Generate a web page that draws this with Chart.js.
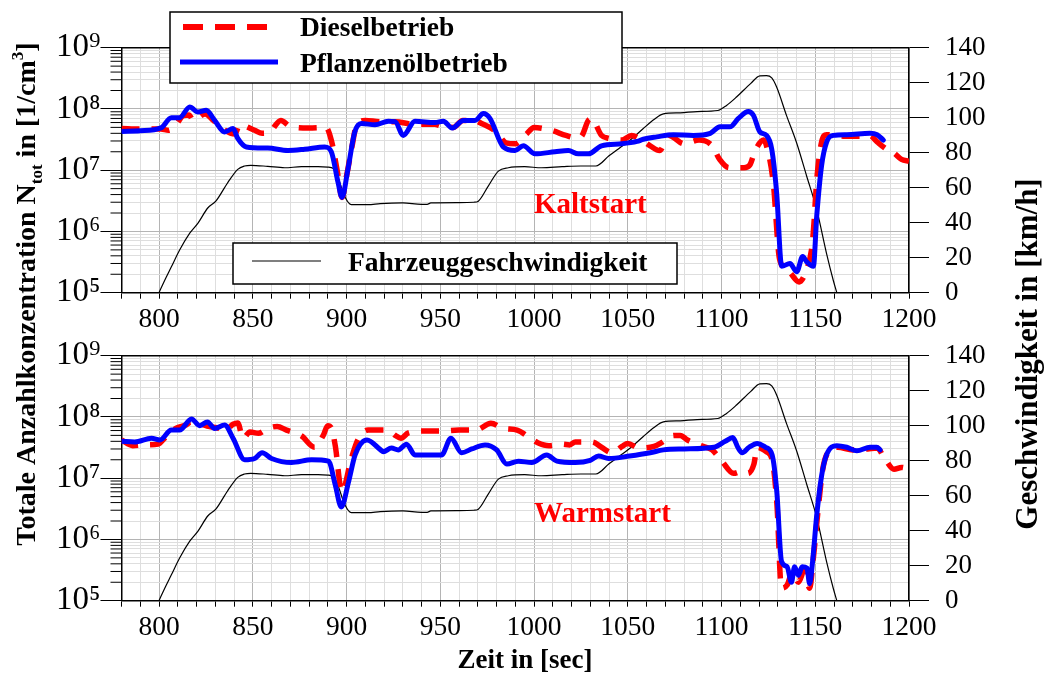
<!DOCTYPE html>
<html>
<head>
<meta charset="utf-8">
<script src="https://cdn.jsdelivr.net/npm/chart.js@4.4.1/dist/chart.umd.min.js"></script>
<style>
  html, body { margin: 0; padding: 0; background: #fff; }
  #wrap { position: relative; width: 1047px; height: 674px; }
  #wrap canvas { position: absolute; left: 0; top: 0; }
</style>
</head>
<body>
<div id="wrap">
  <canvas id="kalt" width="1047" height="674"></canvas>
  <canvas id="warm" width="1047" height="674"></canvas>
</div>
<script>
// Fahrzeuggeschwindigkeit (gleich fuer beide Starts)
const speedTime = [800, 803, 806.6, 811, 816.4, 820.8, 826, 830.3, 836.6, 842, 845.6, 849, 858, 867, 876, 884.8, 890, 893,
  895.5, 899, 902.6, 911.5, 918, 930, 940, 943, 945, 960, 968, 970.3, 975.6, 981, 986.3, 995, 1004, 1015, 1025, 1033,
  1040, 1046, 1051, 1058, 1064, 1069, 1078, 1087, 1098, 1102.7, 1108, 1115.5, 1120.5, 1124, 1126.8, 1129.4, 1134.7,
  1140, 1145.4, 1150.8, 1156, 1159.6, 1161.5];
const speedKmh = [0, 7, 14.8, 24.4, 34, 39.8, 48.4, 52.3, 62.8, 70.5, 72.4, 72.8, 72.2, 71.4, 72, 72, 71.8, 71,
  65.7, 55.1, 50.3, 50.3, 50.9, 51.3, 50.5, 50.5, 51.3, 51.5, 51.7, 52.3, 60.9, 69.5, 71.4, 72, 71.4, 72, 72.4, 72.4,
  78.2, 83, 87, 93.5, 99, 102.2, 102.8, 103.5, 104.1, 107, 111.8, 119.5, 123.9, 124, 122.7, 117.5, 101.2,
  85.8, 66.7, 47.5, 22.5, 7.1, 0];

// Kaltstart
const kaltDieselTime = [780, 790, 801, 805, 809, 813, 816, 818.3, 824.6, 829, 835, 840.5, 843, 851, 855, 859, 865, 870,
  880, 889, 892, 895, 897.6, 900, 903, 905, 910, 918, 926, 936, 947, 951, 957, 962, 968, 972, 980, 985, 990, 996,
  1000, 1005, 1010, 1017, 1022, 1025, 1029, 1030.7, 1036, 1040, 1047, 1052, 1056, 1062, 1067, 1072, 1080, 1088,
  1095, 1099, 1104, 1112, 1115, 1118, 1122.5, 1124, 1127.6, 1131, 1136, 1141.4, 1146, 1148, 1149, 1150.8, 1153.4,
  1156, 1165, 1176, 1179, 1183, 1188, 1192, 1196, 1200];
const kaltDieselN = [4.8e7, 4.7e7, 4.7e7, 4.5e7, 5.5e7, 7.8e7, 8.0e7, 6.5e7, 8.3e7, 6.5e7, 4.5e7, 3.9e7, 5.5e7, 4.5e7,
  4.0e7, 4.2e7, 6.5e7, 5.2e7, 4.9e7, 5.0e7, 3.0e7, 1.0e7, 3.6e6, 8e6, 2.5e7, 5.0e7, 6.5e7, 6.2e7, 6.2e7, 5.6e7,
  5.6e7, 5.2e7, 5.0e7, 6.5e7, 6.5e7, 5.8e7, 4.2e7, 2.8e7, 2.7e7, 3.9e7, 5.0e7, 4.8e7, 4.4e7, 3.7e7, 3.4e7, 3.5e7,
  6.5e7, 6.9e7, 3.7e7, 3.3e7, 3.1e7, 3.7e7, 3.3e7, 2.5e7, 2.1e7, 3.7e7, 2.7e7, 3.1e7, 2.5e7, 1.5e7, 1.1e7, 1.1e7,
  1.2e7, 2.1e7, 3.1e7, 2.5e7, 6.3e6, 3.5e5, 2.2e5, 1.5e5, 2.7e5, 5e5, 1.0e6, 6.9e6, 2.9e7, 3.8e7, 3.6e7, 3.6e7,
  3.7e7, 2.9e7, 2.2e7, 1.9e7, 1.5e7, 1.4e7];
const kaltOelTime = [780, 790, 801, 806.6, 811, 816.4, 820.8, 825.2, 829.7, 835, 839.5, 842, 846.6, 858, 868.8, 877.7,
  888.4, 891.9, 895.5, 897.6, 900.8, 904.4, 907.9, 915.2, 922.3, 925.9, 930.3, 936.5, 947.2, 951.6, 956.4, 962.3,
  968.5, 973, 976.5, 983.6, 989.9, 994.3, 1000.5, 1011.2, 1018.3, 1023.6, 1029, 1036, 1046.8, 1055, 1058.3, 1065.4,
  1074.3, 1085, 1094, 1099.2, 1104.5, 1109, 1114.3, 1117, 1120.5, 1124, 1126.8, 1129.4, 1132.1, 1136.5, 1140.1,
  1143.3, 1145.4, 1149, 1150.8, 1153.4, 1156.1, 1159.6, 1166.8, 1179.2, 1183, 1186.3];
const kaltOelN = [4.3e7, 4.4e7, 4.9e7, 7.2e7, 7.2e7, 1.08e8, 8.9e7, 9.5e7, 6.5e7, 4.2e7, 4.8e7, 3.3e7, 2.4e7, 2.3e7,
  2.1e7, 2.2e7, 2.4e7, 2.0e7, 6.3e6, 3.6e6, 1.06e7, 4.2e7, 5.8e7, 5.5e7, 6.3e7, 6.2e7, 3.7e7, 6.3e7, 6.0e7, 6.3e7,
  4.9e7, 6.5e7, 6.5e7, 8.4e7, 7.0e7, 2.4e7, 2.1e7, 2.5e7, 1.85e7, 2.0e7, 2.1e7, 1.85e7, 1.85e7, 2.5e7, 2.7e7,
  2.95e7, 3.2e7, 3.5e7, 3.8e7, 3.7e7, 4.0e7, 5.1e7, 5.1e7, 7.0e7, 9.1e7, 7.9e7, 4.2e7, 3.7e7, 2.2e7, 4.3e6, 2.7e5,
  3.0e5, 2.2e5, 3.9e5, 3.2e5, 2.7e5, 1.8e6, 1.2e7, 2.9e7, 3.7e7, 3.8e7, 4.0e7, 3.8e7, 3.1e7];

// Warmstart
const warmDieselTime = [780, 786, 792, 799.6, 803, 809, 814.4, 817, 823, 826.5, 832, 835, 839.5, 842, 844.8, 848.5,
  853, 858, 863, 868, 876, 883, 887.6, 890, 892, 894, 897.5, 902.6, 906, 911.5, 922, 926, 929, 933, 942, 951, 960,
  969, 977, 983.7, 991, 998, 1002, 1008, 1015, 1019, 1022, 1031, 1036, 1041.6, 1047, 1050, 1056, 1064, 1068,
  1074.6, 1078, 1081.8, 1089, 1095, 1100.2, 1106.4, 1111, 1114, 1117.3, 1119, 1124, 1127, 1129.5, 1132, 1135,
  1138, 1141, 1144, 1147, 1149, 1151.5, 1154, 1157, 1162, 1170, 1178, 1183, 1187, 1192, 1196, 1200];
const warmDieselN = [4.2e7, 3.4e7, 3.5e7, 3.6e7, 4.5e7, 6.5e7, 7.4e7, 8.3e7, 7.6e7, 7.0e7, 6.5e7, 5.9e7, 7.6e7,
  8.0e7, 4.5e7, 5.7e7, 5.4e7, 6.5e7, 7.0e7, 6.1e7, 4.9e7, 3.2e7, 5.0e7, 7.2e7, 6.5e7, 3.4e7, 6.0e6, 2.1e7, 4.2e7,
  6.1e7, 6.1e7, 5.0e7, 4.5e7, 5.5e7, 5.9e7, 5.9e7, 6.1e7, 6.1e7, 7.9e7, 6.5e7, 6.1e7, 4.5e7, 3.8e7, 3.4e7, 3.6e7,
  3.5e7, 3.9e7, 3.9e7, 3.2e7, 2.6e7, 3.3e7, 3.7e7, 3.1e7, 3.3e7, 3.8e7, 5.0e7, 5.0e7, 4.2e7, 3.4e7, 2.9e7, 1.9e7,
  1.2e7, 1.3e7, 1.2e7, 1.7e7, 3.2e7, 2.7e7, 2.0e7, 4e6, 1.6e5, 1.8e5, 3.0e5, 2.0e5, 3.0e5, 1.6e5, 5e5, 3e6, 1.4e7,
  2.7e7, 3.2e7, 2.9e7, 3.0e7, 3.1e7, 2.1e7, 1.4e7, 1.5e7, 1.4e7];
const warmOelTime = [780, 787, 796, 800.5, 806.6, 811, 817.3, 821.7, 825.8, 829.7, 835, 839.5, 845.7, 851, 855, 860,
  870.7, 881.4, 890.4, 894, 897.2, 901.1, 904.6, 910.9, 918.2, 919.6, 924, 927.6, 932, 936.5, 950.7, 955.7, 961.4,
  966.8, 973.9, 980.1, 985.5, 991.7, 998.8, 1006.8, 1012.2, 1022, 1030, 1034.4, 1039.8, 1051, 1062, 1069, 1080,
  1096, 1102, 1106, 1108.7, 1111, 1114.7, 1119, 1123.5, 1127, 1129.5, 1132, 1135, 1137.3, 1139, 1141, 1143, 1145.6,
  1147, 1148.6, 1150.8, 1153.4, 1156, 1161.5, 1166.8, 1172.2, 1179.2, 1182.8, 1184.6];
const warmOelN = [4.0e7, 3.9e7, 4.5e7, 4.2e7, 6.1e7, 6.1e7, 9.3e7, 7.2e7, 8.3e7, 6.5e7, 7.4e7, 4.5e7, 2.0e7, 2.1e7,
  2.6e7, 2.1e7, 1.8e7, 2.0e7, 1.9e7, 7.8e6, 3.4e6, 8.7e6, 2.4e7, 4.2e7, 2.9e7, 2.7e7, 3.1e7, 2.9e7, 3.6e7, 2.4e7,
  2.4e7, 4.5e7, 2.6e7, 3.0e7, 3.5e7, 2.9e7, 1.7e7, 1.9e7, 1.8e7, 2.4e7, 1.9e7, 1.8e7, 1.95e7, 2.3e7, 2.1e7, 2.3e7,
  2.6e7, 2.9e7, 3.0e7, 3.2e7, 4.0e7, 4.6e7, 3.2e7, 2.6e7, 3.2e7, 3.7e7, 3.2e7, 2.4e7, 6.0e6, 4.4e5, 3.6e5, 2.0e5,
  3.6e5, 2.6e5, 3.6e5, 3.4e5, 1.9e5, 4.4e5, 2.5e6, 1.1e7, 2.4e7, 3.4e7, 3.2e7, 2.8e7, 3.2e7, 3.2e7, 2.9e7];

// Achsenbeschriftungen
const zeitTickLabels = [800, 850, 900, 950, 1000, 1050, 1100, 1150, 1200];
const nDecades = [1e5, 1e6, 1e7, 1e8, 1e9];
const nTickLabels = ['10\u2075', '10\u2076', '10\u2077', '10\u2078', '10\u2079'];
const speedTickLabels = [0, 20, 40, 60, 80, 100, 120, 140];

const FONT = "'Liberation Serif', 'Times New Roman', serif";
const RED = '#ff0000', BLUE = '#0000ff';

// alle Log-Ticks 1..9 pro Dekade
const logTicks = [];
for (let e = 5; e < 9; e++) for (let m = 1; m < 10; m++) logTicks.push(m * Math.pow(10, e));
logTicks.push(1e9);
const isDecade = v => nDecades.some(d => Math.abs(d - v) < d * 1e-6);

function pts(xs, ys) { return xs.map((x, i) => ({ x: x, y: ys[i] })); }

function drawText(ctx, s, x, y, font, color, align) {
  ctx.font = font;
  ctx.fillStyle = color || '#000';
  ctx.textAlign = align || 'left';
  ctx.textBaseline = 'alphabetic';
  ctx.fillText(s, x, y);
}

function line(ctx, x1, y1, x2, y2, color, width, dash) {
  ctx.save();
  ctx.strokeStyle = color;
  ctx.lineWidth = width;
  ctx.setLineDash(dash || []);
  ctx.beginPath();
  ctx.moveTo(x1, y1);
  ctx.lineTo(x2, y2);
  ctx.stroke();
  ctx.restore();
}

// Rahmen oben + kurze Nebenticks an der Log-Achse
const frame = {
  id: 'frame',
  afterDraw(chart) {
    const ctx = chart.ctx, a = chart.chartArea, y = chart.scales.y;
    line(ctx, a.left, a.top, a.right, a.top, '#000', 1.5);
    logTicks.forEach(v => {
      if (isDecade(v)) return;
      const py = y.getPixelForValue(v);
      line(ctx, a.left - 11, py, a.left, py, '#000', 1);
    });
  }
};

const kaltDeko = {
  id: 'kaltDeko',
  afterDraw(chart) {
    const ctx = chart.ctx;
    ctx.save();
    ctx.fillStyle = '#fff';
    ctx.fillRect(170, 12, 452, 71);
    ctx.strokeStyle = '#000';
    ctx.lineWidth = 1.5;
    ctx.strokeRect(170, 12, 452, 71);
    line(ctx, 183, 27, 268, 27, RED, 6, [20, 12]);
    line(ctx, 180, 62, 278, 62, BLUE, 5);
    drawText(ctx, 'Dieselbetrieb', 300, 36, 'bold 27.5px ' + FONT);
    drawText(ctx, 'Pflanzenölbetrieb', 300, 72, 'bold 27.5px ' + FONT);

    ctx.fillStyle = '#fff';
    ctx.fillRect(233, 243, 444, 41);
    ctx.strokeRect(233, 243, 444, 41);
    line(ctx, 252, 261, 321, 261, '#000', 1.2);
    drawText(ctx, 'Fahrzeuggeschwindigkeit', 348, 271, 'bold 27.5px ' + FONT);

    drawText(ctx, 'Kaltstart', 534, 213, 'bold 29px ' + FONT, RED);
    ctx.restore();
  }
};

const warmDeko = {
  id: 'warmDeko',
  afterDraw(chart) {
    const ctx = chart.ctx;
    ctx.save();
    drawText(ctx, 'Warmstart', 534, 522, 'bold 29px ' + FONT, RED);
    drawText(ctx, 'Zeit in [sec]', 525, 668, 'bold 27px ' + FONT, '#000', 'center');

    // linke Achsenbeschriftung mit Index und Exponent
    const big = 'bold 28px ' + FONT, small = 'bold 17px ' + FONT;
    const parts = [
      ['Totale Anzahlkonzentration N', big, 0],
      ['tot', small, 7],
      [' in [1/cm', big, 0],
      ['3', small, -12],
      [']', big, 0]
    ];
    let total = 0;
    parts.forEach(p => { ctx.font = p[1]; total += ctx.measureText(p[0]).width; });
    ctx.translate(35, 294);
    ctx.rotate(-Math.PI / 2);
    let x = -total / 2;
    parts.forEach(p => {
      drawText(ctx, p[0], x, p[2], p[1]);
      x += ctx.measureText(p[0]).width;
    });
    ctx.restore();

    ctx.save();
    ctx.translate(1037, 354);
    ctx.rotate(-Math.PI / 2);
    drawText(ctx, 'Geschwindigkeit in [km/h]', 0, 0, 'bold 31px ' + FONT, '#000', 'center');
    ctx.restore();
  }
};

function makePanel(id, dieselT, dieselN, oelT, oelN, top, deko) {
  const height = 245;
  return new Chart(document.getElementById(id), {
    type: 'line',
    data: {
      datasets: [
        { label: 'Pflanzenölbetrieb', data: pts(oelT, oelN), borderColor: BLUE, borderWidth: 5,
          borderCapStyle: 'round', yAxisID: 'y', order: 0 },
        { label: 'Dieselbetrieb', data: pts(dieselT, dieselN), borderColor: RED, borderWidth: 5.5,
          borderDash: [18, 12], yAxisID: 'y', order: 1 },
        { label: 'Fahrzeuggeschwindigkeit', data: pts(speedTime, speedKmh), borderColor: '#000',
          borderWidth: 1.2, yAxisID: 'y2', order: 2 }
      ]
    },
    options: {
      responsive: false,
      animation: false,
      layout: { padding: { left: 51.5, right: 58, top: top, bottom: 674 - top - height - 50 } },
      elements: {
        point: { radius: 0 },
        line: { cubicInterpolationMode: 'monotone', borderJoinStyle: 'round', fill: false }
      },
      plugins: { legend: { display: false }, tooltip: { enabled: false } },
      scales: {
        x: {
          type: 'linear', min: 780, max: 1200,
          afterFit: s => { s.height = 50; },
          border: { color: '#000', width: 1.5 },
          grid: {
            color: c => (c.tick && c.tick.value % 50 === 0) ? '#b4b4b4' : '#dedede',
            tickColor: '#000', tickLength: 6
          },
          ticks: {
            stepSize: 10, autoSkip: false, maxRotation: 0, padding: 5, color: '#000',
            font: { family: FONT, size: 27.5 },
            callback: v => zeitTickLabels.includes(v) ? String(v) : ''
          }
        },
        y: {
          type: 'logarithmic', position: 'left', min: 1e5, max: 1e9,
          afterFit: s => { s.width = 70; },
          afterBuildTicks: s => { s.ticks = logTicks.map(v => ({ value: v, major: isDecade(v) })); },
          border: { color: '#000', width: 1.5 },
          grid: {
            color: c => (c.tick && isDecade(c.tick.value)) ? '#b4b4b4' : '#dedede',
            tickColor: c => (c.tick && isDecade(c.tick.value)) ? '#000' : 'rgba(0,0,0,0)',
            tickLength: 21
          },
          ticks: {
            autoSkip: false, padding: 0, color: '#000',
            font: { family: FONT, size: 33 },
            callback: v => {
              const i = nDecades.findIndex(d => Math.abs(d - v) < d * 1e-6);
              return i >= 0 ? nTickLabels[i] : '';
            }
          }
        },
        y2: {
          type: 'linear', position: 'right', min: 0, max: 140,
          afterFit: s => { s.width = 80; },
          border: { color: '#000', width: 1.5 },
          grid: { drawOnChartArea: false, tickColor: '#000', tickLength: 20 },
          ticks: {
            stepSize: 20, autoSkip: false, padding: 16, color: '#000',
            font: { family: FONT, size: 27 },
            callback: v => speedTickLabels.includes(v) ? String(v) : ''
          }
        }
      }
    },
    plugins: [frame, deko]
  });
}

makePanel('kalt', kaltDieselTime, kaltDieselN, kaltOelTime, kaltOelN, 47.7, kaltDeko);
makePanel('warm', warmDieselTime, warmDieselN, warmOelTime, warmOelN, 355.7, warmDeko);
</script>
</body>
</html>
